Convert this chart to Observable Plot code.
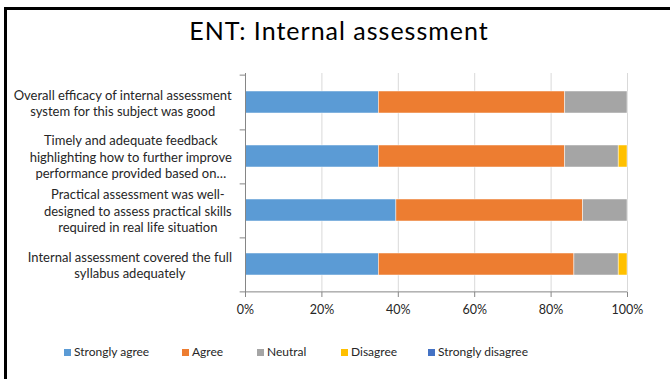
<!DOCTYPE html>
<html>
<head>
<meta charset="utf-8">
<script src="https://cdn.jsdelivr.net/npm/d3@7"></script>
<script src="https://cdn.jsdelivr.net/npm/@observablehq/plot@0.6"></script>
<style>
  html, body { margin: 0; padding: 0; background: #fff; }
  #root { position: relative; width: 670px; height: 379px; overflow: hidden; font-family: Lato, "Open Sans", sans-serif; color: #262626; }
  #border { position: absolute; left: 4px; top: 7px; width: 700px; height: 400px; border-top: 3px solid #000; border-left: 3px solid #000; box-sizing: border-box; }
  #title { position: absolute; left: 0; width: 678px; top: 18px; text-align: center; font-size: 25px; line-height: 25px; letter-spacing: 1px; color: #000; }
  #chart { position: absolute; left: 0; top: 60px; }
  #legend { position: absolute; left: 0; top: 344px; width: 670px; height: 20px; font-size: 12px; }
  .item { position: absolute; top: 0; white-space: nowrap; line-height: 16px; }
  .sw { display: inline-block; width: 7px; height: 7px; margin-right: 3px; vertical-align: 0px; }
</style>
</head>
<body>
<div id="root">
  <div id="border"></div>
  <div id="title">ENT: Internal assessment</div>
  <div id="chart"></div>
  <div id="legend"></div>
</div>
<script>
const categories = [
  "Overall efficacy of internal assessment\nsystem for this subject was good",
  "Timely and adequate feedback\nhighlighting how to further improve\nperformance provided based on…",
  "Practical assessment was well-\ndesigned to assess practical skills\nrequired in real life situation",
  "Internal assessment covered the full\nsyllabus adequately"
];
const responses = ["Strongly agree", "Agree", "Neutral", "Disagree", "Strongly disagree"];
const colors = ["#5B9BD5", "#ED7D31", "#A5A5A5", "#FFC000", "#4472C4"];
const stronglyAgree    = [34.9, 34.9, 39.5, 34.9];
const agree            = [48.8, 48.8, 48.9, 51.2];
const neutral          = [16.3, 14.0, 11.6, 11.6];
const disagree         = [0.0, 2.3, 0.0, 2.3];
const stronglyDisagree = [0.0, 0.0, 0.0, 0.0];
const xTicks = [0, 20, 40, 60, 80, 100];

const series = [stronglyAgree, agree, neutral, disagree, stronglyDisagree];
const data = [];
categories.forEach((c, i) => {
  responses.forEach((r, j) => {
    data.push({category: c, response: r, value: series[j][i]});
  });
});

const H = 265, MT = 13, MB = 33;
const step = (H - MT - MB) / categories.length;

const chart = Plot.plot({
  width: 670,
  height: H,
  marginLeft: 245,
  marginRight: 43,
  marginTop: MT,
  marginBottom: MB,
  style: {fontFamily: "Lato, 'Open Sans', sans-serif", fontSize: "12.5px", color: "#262626", background: "transparent"},
  x: {domain: [0, 100], ticks: xTicks, tickFormat: d => d + "%", label: null},
  y: {domain: categories, paddingInner: 0.6, paddingOuter: 0.3, label: null},
  color: {domain: responses, range: colors},
  marks: [
    Plot.gridX(xTicks.slice(1), {stroke: "#d9d9d9", strokeOpacity: 1}),
    Plot.barX(data, Plot.stackX({x: "value", y: "category", fill: "response", stroke: "#ffffff", strokeWidth: 0.6, strokeOpacity: 0.8})),
    Plot.ruleX([0], {stroke: "#868686"}),
    Plot.ruleY(categories, {y: d => d, x1: -1.4, x2: 0, dy: step / 2, stroke: "#868686"}),
    Plot.ruleY([categories[0]], {y: d => d, x1: -1.4, x2: 0, dy: -step / 2, stroke: "#868686"}),
    Plot.ruleY([categories[categories.length - 1]], {y: d => d, x1: 0, x2: 100, dy: step / 2, stroke: "#868686"}),
    Plot.axisX({ticks: xTicks, tickFormat: d => d + "%", tickSize: 5, tickPadding: 8, stroke: "#868686", fill: "#262626", label: null}),
    Plot.axisY({tickSize: 0, tickPadding: 12, textAnchor: "middle", lineHeight: 1.28, fontSize: 13, fill: "#262626", label: null})
  ]
});
document.getElementById("chart").appendChild(chart);

// Excel-style label blocks: each line centred, block right-aligned
const svgRect = chart.getBoundingClientRect();
chart.querySelectorAll('g[aria-label="y-axis tick label"] text').forEach(t => {
  const r = t.getBoundingClientRect();
  const dx = (svgRect.left + 232) - r.right;
  const tr = t.getAttribute("transform") || "";
  t.setAttribute("transform", tr + ` translate(${dx},0)`);
});

// Legend
const legendX = [64, 182, 257, 341, 428];
const legend = document.getElementById("legend");
responses.forEach((r, i) => {
  const it = document.createElement("div");
  it.className = "item";
  it.style.left = legendX[i] + "px";
  const sw = document.createElement("span");
  sw.className = "sw";
  sw.style.background = colors[i];
  it.appendChild(sw);
  it.appendChild(document.createTextNode(r));
  legend.appendChild(it);
});
</script>
</body>
</html>
